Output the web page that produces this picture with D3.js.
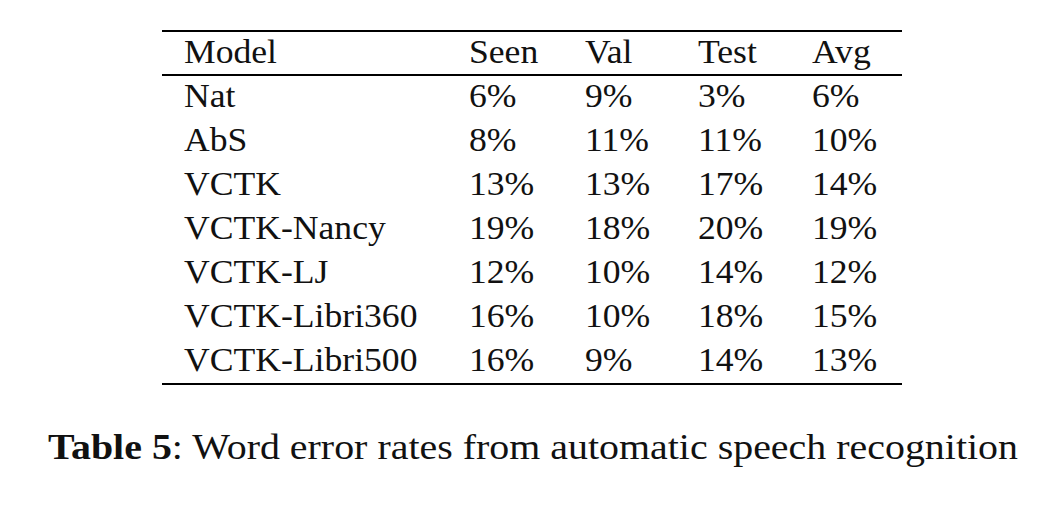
<!DOCTYPE html>
<html><head><meta charset="utf-8">
<script src="https://cdn.jsdelivr.net/npm/d3@7"></script>
<style>body{margin:0;background:#fff}</style></head>
<body><svg id="c" width="1060" height="526"></svg>
<script>
const columns = ["Model","Seen","Val","Test","Avg"];
const models = ["Nat","AbS","VCTK","VCTK-Nancy","VCTK-LJ","VCTK-Libri360","VCTK-Libri500"];
const seen = ["6%","8%","13%","19%","12%","16%","16%"];
const val  = ["9%","11%","13%","18%","10%","10%","9%"];
const test = ["3%","11%","17%","20%","14%","18%","14%"];
const avg  = ["6%","10%","14%","19%","12%","15%","13%"];
const captionBold = "Table 5";
const captionText = ": Word error rates from automatic speech recognition";

const svg = d3.select("#c");
const font = "'Liberation Serif','DejaVu Serif',serif";
const sx = 1.08;
const x = d3.scaleOrdinal().domain(columns).range([184,469,585,698,812]);
const y = d3.scaleLinear().domain([0,6]).range([107,371]);
const line = (yy)=>svg.append("line").attr("x1",162).attr("x2",902).attr("y1",yy).attr("y2",yy).attr("stroke","#000").attr("stroke-width",2);
line(31); line(75); line(384);
const txt = (sel)=>sel.attr("font-family",font).attr("font-size",33).attr("fill","#111")
  .attr("transform",d=>`translate(${x(d.c)},0) scale(${sx},1)`);
svg.selectAll("text.h").data(columns.map(c=>({v:c,c}))).join("text").attr("class","h")
  .attr("y",63).text(d=>d.v).call(txt);
const rows = models.map((m,i)=>[m,seen[i],val[i],test[i],avg[i]]);
const g = svg.selectAll("g.r").data(rows).join("g").attr("class","r")
  .attr("transform",(d,i)=>`translate(0,${y(i)})`);
g.selectAll("text").data(d=>d.map((v,j)=>({v,c:columns[j]}))).join("text")
  .attr("y",0).text(d=>d.v).call(txt);
const cap = svg.append("text").attr("x",48).attr("y",459)
  .attr("font-family",font).attr("font-size",36).attr("fill","#111")
  .attr("textLength",970).attr("lengthAdjust","spacingAndGlyphs");
cap.append("tspan").attr("font-weight","bold").text(captionBold);
cap.append("tspan").text(captionText);
</script></body></html>
